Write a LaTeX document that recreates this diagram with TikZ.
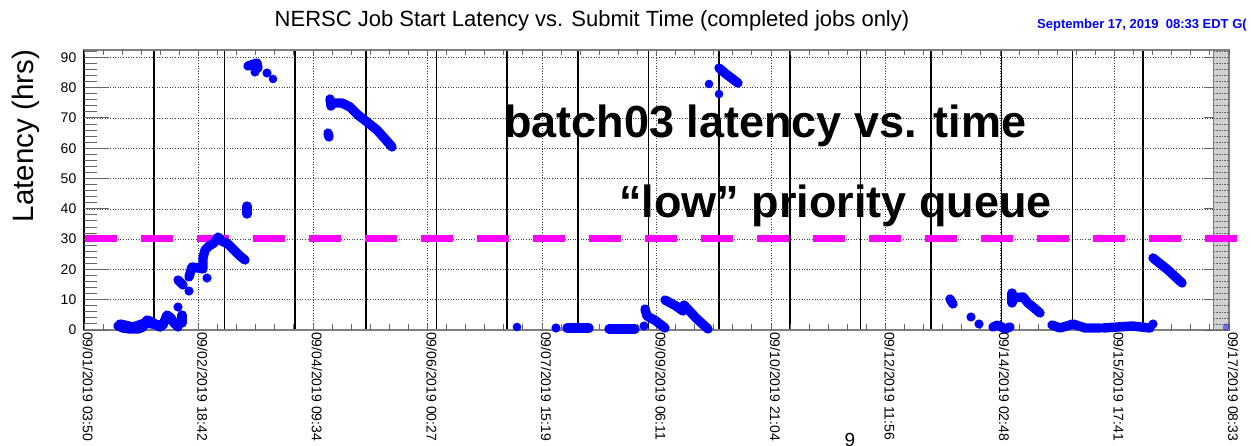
\documentclass[tikz,border=0pt]{standalone}
\usepackage{fontspec}
\setmainfont{Liberation Sans}
\definecolor{rootblue}{RGB}{0,0,255}
\definecolor{limitmag}{RGB}{255,0,255}
\begin{document}
\begin{tikzpicture}[x=1pt,y=-1pt,
  gridline/.style={black!75, line width=0.6pt, dotted},
  dayline/.style={black, line width=1.6pt},
  frameline/.style={black!50, line width=1.4pt},
  axtick/.style={black!60, line width=0.9pt},
  datadot/.style={fill=rootblue},
  streak/.style={draw=rootblue, line width=9.4pt, line cap=round, line join=round},
  ticklabel/.style={font=\fontsize{14}{14}\selectfont, inner sep=0pt},
  bigtext/.style={font=\fontsize{45}{45}\selectfont\bfseries, inner sep=0pt}
]
\useasboundingbox (0,0) rectangle (1251,445);

% ---- dotted grid ----
\foreach \v in {10,20,...,90}
  \draw[gridline] (84,{330-3.03*\v}) -- (1213,{330-3.03*\v});
\foreach \k in {1,...,9}
  \draw[gridline] ({84+114.5*\k},50) -- ({84+114.5*\k},330);

% ---- day boundaries ----
\foreach \k in {0,...,14}
  \draw[dayline] ({154+70.64*\k},50) -- ({154+70.64*\k},330);

% ---- last bin strip ----
\fill[black!18] (1213,50) rectangle (1229,330);
\draw[black!50, line width=0.5pt] (1213,50) -- (1213,330);

% ---- frame ----
\draw[frameline] (84,50) rectangle (1229,330);
\draw[black, line width=1.6pt] (84,50) -- (84,330);

% ---- y ticks ----
\foreach \v in {0,2,...,92} {
  \draw[axtick] (84,{330-3.03*\v}) -- (97,{330-3.03*\v});
  \draw[black!60, line width=0.6pt, densely dotted] (1229,{330-3.03*\v}) -- (1213,{330-3.03*\v});
}
\foreach \v in {0,10,...,90} {
  \draw[axtick] (84,{330-3.03*\v}) -- (109,{330-3.03*\v});
  \draw[axtick] (1213,{330-3.03*\v}) -- (1204,{330-3.03*\v});
  \node[ticklabel, anchor=east] at (76.5,{330-3.03*\v}) {\v};
}

% ---- x ticks ----
\foreach \k in {0,...,60} {
  \draw[axtick] ({84+19.0833*\k},330) -- ({84+19.0833*\k},324);
  \draw[axtick] ({84+19.0833*\k},50) -- ({84+19.0833*\k},55);
}

% ---- x labels ----
\foreach \lbl [count=\i from 0] in {09/01/2019 03:50, 09/02/2019 18:42, 09/04/2019 09:34,
  09/06/2019 00:27, 09/07/2019 15:19, 09/09/2019 06:11, 09/10/2019 21:04,
  09/12/2019 11:56, 09/14/2019 02:48, 09/15/2019 17:41, 09/17/2019 08:33}
  \node[ticklabel, rotate=-90, anchor=west] at ({88+114.5*\i},332) {\lbl};

% ---- 30 hour limit ----
\draw[limitmag, line width=7.6pt, dash pattern=on 32pt off 24pt] (85,238.5) -- (1237,238.5);

% ---- data: 09/01 - 09/03 ----
\draw[streak] (118,326) -- (123,328) -- (130,329) -- (138,329) -- (143,327) -- (147,320)
  -- (152,322) -- (156,325) -- (160,327) -- (163,325) -- (167,315) -- (171,318)
  -- (174,323) -- (178,327);
\draw[streak] (120,324) -- (133,327) -- (145,323) -- (160,325);
\fill[datadot] (178,307) circle (4.6pt);
\draw[streak] (182,315) -- (182,323);
\draw[streak] (178,280) -- (183,285);
\fill[datadot] (189,291) circle (4.6pt);
\draw[streak] (189,277) -- (192,267) -- (198,268) -- (203,269) -- (203,258) -- (205,250)
  -- (209,246) -- (214,243) -- (218,237) -- (222,241) -- (228,244) -- (234,250)
  -- (240,256) -- (245,260);
\fill[datadot] (207,278) circle (4.6pt);
\draw[streak] (247,206) -- (247,214);
\draw[streak] (248,66) -- (257,63) -- (258,68);
\fill[datadot] (255,72) circle (4.6pt);
\fill[datadot] (267,73) circle (4.6pt);
\fill[datadot] (273,79) circle (4.3pt);

% ---- data: 09/04 ----
\draw[streak] (328,133) -- (329,137);
\draw[streak] (330,99) -- (331,106) -- (333,103) -- (342,103) -- (350,107) -- (358,115)
  -- (367,122) -- (377,130) -- (386,140) -- (392,147);

% ---- data: 09/07 - 09/10 ----
\fill[datadot] (517,327) circle (4.3pt);
\fill[datadot] (556,328) circle (4.6pt);
\draw[streak] (567,328) -- (589,328);
\draw[streak] (609,329) -- (635,329);
\fill[datadot] (644,326) circle (4.6pt);
\draw[streak] (645,309) -- (647,316) -- (656,321) -- (665,328);
\draw[streak] (665,300) -- (676,306) -- (683,311);
\draw[streak] (684,305) -- (696,318) -- (708,329);
\fill[datadot] (709,84) circle (4.3pt);
\fill[datadot] (719,94) circle (4.3pt);
\draw[streak] (719,68) -- (726,74) -- (738,83);

% ---- data: 09/13 - 09/17 ----
\draw[streak] (950,299) -- (953,304);
\fill[datadot] (971,317) circle (4.6pt);
\fill[datadot] (979,324) circle (4.6pt);
\draw[streak] (993,327) -- (998,325) -- (1005,329) -- (1010,327);
\draw[streak] (1012,293) -- (1012,303);
\draw[streak] (1012,298) -- (1023,297) -- (1028,303) -- (1033,307) -- (1040,313);
\draw[streak] (1052,325) -- (1060,328) -- (1073,324) -- (1085,328) -- (1100,328);
\draw[streak] (1103,328) -- (1132,326) -- (1150,328);
\fill[datadot] (1153,324) circle (4.6pt);
\draw[streak] (1153,258) -- (1168,270) -- (1182,283);
\fill[rootblue, opacity=0.45] (1226,327) circle (3.5pt);

% ---- texts ----
\node[font=\fontsize{22}{22}\selectfont, anchor=base, inner sep=0pt] at (592,26)
  {NERSC Job Start Latency vs. Submit Time (completed jobs only)};
\node[font=\fontsize{13}{13}\selectfont\bfseries, text=rootblue, anchor=base west, inner sep=0pt]
  at (1037,28.3) {September 17, 2019\ \ 08:33 EDT G(};
\node[font=\fontsize{29.5}{30}\selectfont, rotate=90, anchor=base, inner sep=0pt] at (33.5,136)
  {Latency (hrs)};
\node[bigtext, anchor=base west] at (504,137) {batch03 latency vs. time};
\node[bigtext, anchor=base west] at (619,217) {“low” priority queue};
\node[font=\fontsize{19}{19}\selectfont, anchor=north, inner sep=0pt] at (850,433) {9};
\end{tikzpicture}
\end{document}
